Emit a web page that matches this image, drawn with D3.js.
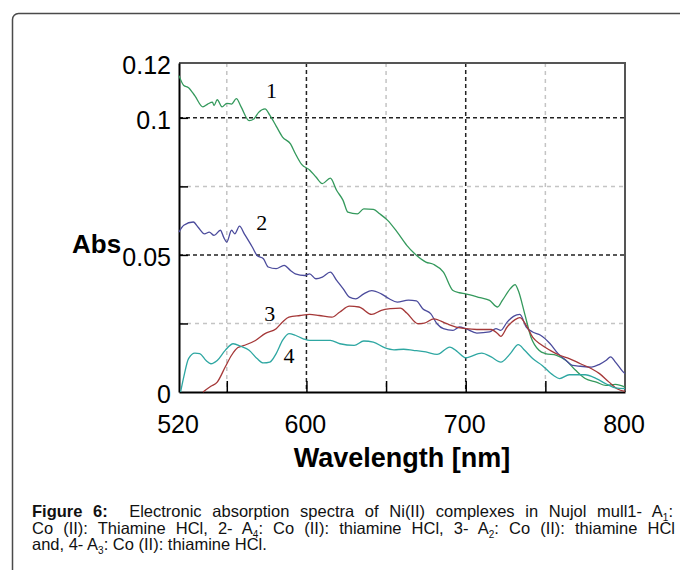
<!DOCTYPE html>
<html>
<head>
    <title>Electronic absorption spectra</title>
    <style>
        body { margin: 0; background: #fff; }
        svg { display: block; }
        .tick-label { font-family: Arial, "Liberation Sans", sans-serif; font-size: 25px; fill: #000; }
        .axis-title { font-family: Arial, "Liberation Sans", sans-serif; font-size: 27px; font-weight: bold; fill: #000; }
        .curve { fill: none; stroke-width: 1.3px; stroke-linejoin: round; }
        .curve-label { font-family: "Liberation Serif", "Times New Roman", serif; font-size: 22px; fill: #000; }
        .caption { font-family: Arial, "Liberation Sans", sans-serif; font-size: 16.5px; fill: #111; }
    </style>
    <script src="https://d3js.org/d3.v7.min.js"></script>
</head>
<body>
<div id="chart"></div>
<script>
// curve 1 (green)
var wl1 = [520,523,526,530,535,538,541,542,544,547,550,553,556,559,564,567,570,574,577,581,585,590,593,597,602,606,610,615,619,623,626,632,636,642,646,651,657,663,668,675,680,686,692,696,700,709,715,720,723,728,731,733,737,741,746,750,757,763,769,775,782,788,794,800];
var abs1 = [.1154,.1118,.111,.108,.104,.105,.1057,.1045,.1066,.104,.1053,.105,.107,.104,.099,.0996,.102,.1033,.101,.097,.093,.0905,.087,.083,.081,.0784,.076,.078,.0735,.0699,.0656,.065,.0668,.0666,.065,.0626,.0583,.0535,.0504,.0474,.0465,.0437,.037,.0362,.0358,.0344,.0334,.031,.0334,.0377,.0392,.037,.0286,.02,.0152,.014,.0134,.0115,.0079,.0049,.0036,.0024,.0028,.0018];

// curve 2 (blue)
var wl2 = [520,523,529,532,536,539,542,546,548,550,553,555,558,561,566,569,573,576,581,586,590,593,599,602,606,610,615,619,623,627,631,636,641,647,652,657,664,669,673,678,682,686,692,696,700,707,715,719,722,726,730,734,738,742,747,753,758,763,767,772,779,784,788,791,794,798,800];
var abs2 = [.0583,.0608,.062,.0601,.0577,.0583,.0571,.059,.0565,.0547,.059,.0577,.0605,.0577,.0529,.0498,.0486,.0456,.045,.0462,.0443,.0431,.0425,.0431,.0413,.0419,.0437,.0407,.0377,.0346,.034,.0358,.037,.0358,.034,.0328,.0335,.0332,.0304,.0286,.0249,.0231,.0225,.0237,.0231,.0215,.0219,.0231,.0225,.0255,.0276,.0283,.0237,.0219,.0207,.0176,.014,.0115,.0097,.0094,.0091,.0101,.0115,.0128,.0109,.0079,.0067];

// curve 3 (red)
var wl3 = [535,540,544,549,553,557,561,568,574,581,585,589,596,602,608,616,621,627,633,641,647,653,659,663,670,674,680,688,694,700,707,716,720,722,726,731,734,738,742,747,753,759,765,772,779,784,790,795,800];
var abs3 = [0,.0021,.0036,.0091,.0134,.0162,.017,.0188,.0213,.0231,.0255,.0273,.0279,.0283,.0279,.0273,.0292,.0313,.031,.0283,.0298,.0304,.0306,.0288,.0249,.0251,.0267,.0249,.0237,.0231,.0228,.0228,.0213,.0203,.0237,.0264,.0271,.0243,.02,.0174,.0152,.0134,.0122,.0103,.0085,.0067,.0036,.0012,.0002];

// curve 4 (teal)
var wl4 = [521,523,526,530,533,537,540,544,549,554,559,564,569,573,577,581,585,589,593,598,602,608,615,621,630,636,642,649,655,661,667,675,682,690,695,700,710,716,722,728,733,737,742,748,755,759,765,775,782,788,794,800];
var abs4 = [0,.0055,.0122,.0142,.014,.0115,.0103,.0115,.0152,.0176,.0166,.0152,.0122,.0106,.0109,.014,.0188,.0213,.0207,.0194,.0188,.0188,.0188,.0176,.017,.0186,.0182,.0162,.0154,.0156,.0152,.0146,.0137,.0164,.0146,.0125,.0142,.0128,.0109,.014,.0173,.0152,.0122,.0097,.0061,.0049,.0063,.0063,.0049,.003,.0015,.0012];

var curveColors = ["#34995c", "#4b4b9c", "#a53838", "#2ea7a2"];
var curveNames = ["1", "2", "3", "4"];
var nameWl = [578, 572, 577, 589];
var nameAbs = [0.1071, 0.059, 0.026, 0.0105];

var xTickLabels = [520, 600, 700, 800];
var xMajorGrid = [600, 700];
var xMinorGrid = [550, 650, 750];
var xInnerTicks = [550, 600, 650, 700, 750];
var yTickLabels = [0, 0.05, 0.1, 0.12];
var yMajorGrid = [0.05, 0.1];
var yMinorGrid = [0.025, 0.075];
var yInnerTicks = [0.025, 0.05, 0.075, 0.1];

var W = 680, H = 570;
var pLeft = 179, pRight = 625, pTop = 63, pBottom = 392;

var svg = d3.select("#chart").append("svg")
    .attr("width", W)
    .attr("height", H);

svg.append("rect").attr("width", W).attr("height", H).attr("fill", "#fff");

// outer figure frame (runs off the right / bottom)
svg.append("rect")
    .attr("x", 12.5).attr("y", 13.5)
    .attr("width", 720).attr("height", 620)
    .attr("rx", 6)
    .attr("fill", "none")
    .attr("stroke", "#4a4a4a")
    .attr("stroke-width", 1.5);

var x = d3.scaleLinear().domain([520, 800]).range([pLeft, pRight]);
var y = d3.scaleLinear().domain([0, 0.12]).range([pBottom, pTop]);

var grid = svg.append("g");

grid.selectAll(".vminor").data(xMinorGrid).enter().append("line")
    .attr("x1", function(d) { return x(d); }).attr("x2", function(d) { return x(d); })
    .attr("y1", pTop).attr("y2", pBottom)
    .attr("stroke", "#c4c4c4").attr("stroke-width", 1.5).attr("stroke-dasharray", "4,4");
grid.selectAll(".hminor").data(yMinorGrid).enter().append("line")
    .attr("y1", function(d) { return y(d); }).attr("y2", function(d) { return y(d); })
    .attr("x1", pLeft).attr("x2", pRight)
    .attr("stroke", "#c4c4c4").attr("stroke-width", 1.5).attr("stroke-dasharray", "4,4");
grid.selectAll(".vmajor").data(xMajorGrid).enter().append("line")
    .attr("x1", function(d) { return x(d); }).attr("x2", function(d) { return x(d); })
    .attr("y1", pTop).attr("y2", pBottom)
    .attr("stroke", "#222").attr("stroke-width", 1.5).attr("stroke-dasharray", "4,3");
grid.selectAll(".hmajor").data(yMajorGrid).enter().append("line")
    .attr("y1", function(d) { return y(d); }).attr("y2", function(d) { return y(d); })
    .attr("x1", pLeft).attr("x2", pRight)
    .attr("stroke", "#222").attr("stroke-width", 1.5).attr("stroke-dasharray", "4,3");

// plot box: top + right grey, left + bottom black axes
svg.append("path")
    .attr("d", "M" + pLeft + "," + pTop + "H" + pRight + "V" + pBottom)
    .attr("fill", "none").attr("stroke", "#555").attr("stroke-width", 2);

var xAxis = d3.axisBottom(x).tickValues(xInnerTicks).tickSizeInner(-11).tickSizeOuter(0).tickFormat("");
svg.append("g")
    .attr("transform", "translate(0," + pBottom + ")")
    .call(xAxis)
    .call(function(g) {
        g.select(".domain").attr("stroke", "#000").attr("stroke-width", 2);
        g.selectAll(".tick line").attr("stroke", "#000").attr("stroke-width", 1.5);
    });

var yAxis = d3.axisLeft(y).tickValues(yInnerTicks).tickSizeInner(-9).tickSizeOuter(0).tickFormat("");
svg.append("g")
    .attr("transform", "translate(" + pLeft + ",0)")
    .call(yAxis)
    .call(function(g) {
        g.select(".domain").attr("stroke", "#000").attr("stroke-width", 2);
        g.selectAll(".tick line").attr("stroke", "#000").attr("stroke-width", 1.5);
    });

// tick labels
svg.selectAll(".xlab").data(xTickLabels).enter().append("text")
    .attr("class", "tick-label")
    .attr("x", function(d) { return x(d) - 1; })
    .attr("y", 433)
    .attr("text-anchor", "middle")
    .text(function(d) { return d; });

svg.selectAll(".ylab").data(yTickLabels).enter().append("text")
    .attr("class", "tick-label")
    .attr("x", pLeft - 8)
    .attr("y", function(d) { return y(d) + 11; })
    .attr("text-anchor", "end")
    .text(function(d) { return d; });

svg.append("text").attr("class", "axis-title")
    .attr("x", (pLeft + pRight) / 2).attr("y", 467)
    .attr("text-anchor", "middle")
    .text("Wavelength [nm]");

svg.append("text").attr("class", "axis-title")
    .attr("x", 72).attr("y", 253)
    .style("font-size", "26px")
    .text("Abs");

// curves
var series = [
    d3.zip(wl1, abs1),
    d3.zip(wl2, abs2),
    d3.zip(wl3, abs3),
    d3.zip(wl4, abs4)
];

var line = d3.line()
    .x(function(d) { return x(d[0]); })
    .y(function(d) { return y(d[1]); })
    .curve(d3.curveMonotoneX);

svg.selectAll(".curve").data(series).enter().append("path")
    .attr("class", "curve")
    .attr("stroke", function(d, i) { return curveColors[i]; })
    .attr("d", line);

svg.selectAll(".curve-label").data(curveNames).enter().append("text")
    .attr("class", "curve-label")
    .attr("x", function(d, i) { return x(nameWl[i]); })
    .attr("y", function(d, i) { return y(nameAbs[i]); })
    .attr("text-anchor", "middle")
    .text(function(d) { return d; });

// caption
var capLines = [
    [["b", "Figure 6:"], ["t", "  Electronic absorption spectra of Ni(II) complexes in Nujol mull1- A"], ["s", "1"], ["t", ":"]],
    [["t", "Co (II): Thiamine HCl, 2- A"], ["s", "4"], ["t", ": Co (II): thiamine HCl, 3- A"], ["s", "2"], ["t", ": Co (II): thiamine HCl"]],
    [["t", "and, 4- A"], ["s", "3"], ["t", ": Co (II): thiamine HCl."]]
];
var capY = [517, 534, 550];
var capRight = [673, 675, null];

capLines.forEach(function(parts, li) {
    var t = svg.append("text").attr("class", "caption")
        .attr("x", 32).attr("y", capY[li])
        .attr("xml:space", "preserve");
    var shifted = false;
    parts.forEach(function(p) {
        var ts = t.append("tspan").text(p[1]);
        if (p[0] === "b") ts.style("font-weight", "bold");
        if (p[0] === "s") { ts.attr("dy", 4).style("font-size", "10px"); shifted = true; }
        else if (shifted) { ts.attr("dy", -4); shifted = false; }
    });
    if (capRight[li]) {
        var natural = t.node().getComputedTextLength();
        var spaces = parts.map(function(p) { return p[1]; }).join("").split(" ").length - 1;
        t.style("word-spacing", ((capRight[li] - 32 - natural) / spaces) + "px");
    }
});
</script>
</body>
</html>
